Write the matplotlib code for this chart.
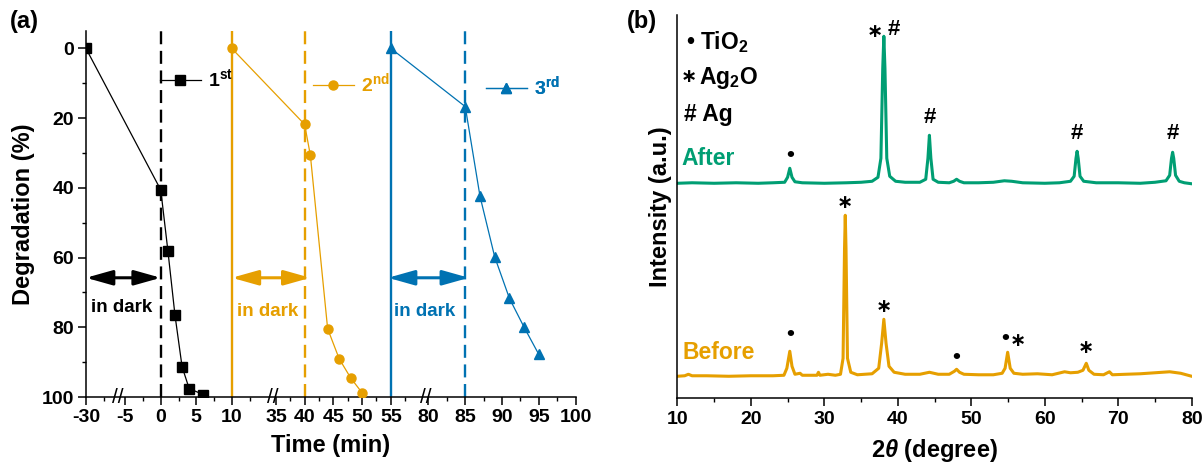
import numpy as np
import matplotlib
matplotlib.use('Agg')
import matplotlib.pyplot as plt
import matplotlib.transforms as mtransforms

plt.rcParams['font.family'] = ['Liberation Sans', 'DejaVu Sans']
plt.rcParams['font.weight'] = 'bold'
plt.rcParams['axes.labelweight'] = 'bold'
plt.rcParams['axes.unicode_minus'] = False
plt.rcParams['mathtext.fontset'] = 'custom'
plt.rcParams['mathtext.rm'] = 'Liberation Sans:bold'
plt.rcParams['mathtext.bf'] = 'Liberation Sans:bold'
plt.rcParams['mathtext.it'] = 'Liberation Sans:italic:bold'

BLACK = '#000000'
ORANGE = '#E69F00'
BLUE = '#0072B2'
GREEN = '#009E73'

# ---- (a) photocatalytic degradation, three cycles ----
t_run1 = [-30, 0, 1, 2, 3, 4, 6]
d_run1 = [0, 40.6, 58.0, 76.5, 91.3, 97.6, 99.3]
t_run2 = [10, 40, 41, 44, 46, 48, 50]
d_run2 = [0, 21.8, 30.7, 80.4, 89.0, 94.5, 98.8]
t_run3 = [55, 85, 87, 89, 91, 93, 95]
d_run3 = [0, 16.7, 42.4, 59.8, 71.7, 80.0, 87.8]
run_labels = [r'1$^{\mathbf{st}}$', r'2$^{\mathbf{nd}}$', r'3$^{\mathbf{rd}}$']

dark_start = [-30, 10, 55]
light_on = [0, 40, 85]
dark_arrows = [(-30, 0), (10, 41), (54.5, 85.5)]

x_major = [-30, -5, 0, 5, 10, 35, 40, 45, 50, 55, 80, 85, 90, 95, 100]
x_minor = [-27.5, -2.5, 2.5, 7.5, 12.5, 37.5, 42.5, 47.5, 52.5, 57.5,
           82.5, 87.5, 92.5, 97.5]

# broken time axis: real minutes -> position along the drawn axis
seg_real = [-30, -25.5, -6.0, 15.7, 34.4, 61.0, 79.6, 100]
seg_pos = [0, 32, 32.2, 186.3, 186.5, 339.4, 339.6, 489.7]
breaks = [-15.75, 25.05, 70.3]

# ---- (b) XRD patterns ----
tt_after = [10, 12, 15, 18, 21, 23, 24.6, 25.0, 25.3, 25.6, 26.0, 27, 30, 33, 35,
            36.5, 37.3, 37.7, 37.95, 38.1, 38.25, 38.5, 38.9, 39.7, 41, 43, 43.8,
            44.1, 44.3, 44.5, 44.8, 45.5, 47, 47.6, 48.0, 48.4, 49, 51, 53, 54.5,
            55.5, 57, 60, 62, 63.5, 64.0, 64.25, 64.4, 64.55, 64.8, 65.3, 67, 70,
            73, 75, 76.5, 77.0, 77.25, 77.4, 77.55, 77.8, 78.3, 79, 80]
i_after = [215, 215.5, 215, 215.5, 215, 215.5, 216, 221, 230, 221, 216.5, 215.5,
           215, 215.5, 216, 217, 221, 240, 330, 362, 330, 240, 222, 217, 216, 216,
           219, 240, 263, 240, 219, 216, 215.5, 217, 219, 217, 215.5, 215.5, 216,
           217.5, 217, 215.5, 215, 215.5, 217, 222, 240, 247, 240, 222, 217, 215.5,
           215.5, 215, 216, 217.5, 223, 240, 246, 240, 223, 217, 215.5, 214.5]

tt_before = [10, 11, 11.5, 12, 14, 17, 20, 23, 24.5, 24.9, 25.3, 25.6, 26.0, 26.7,
             27, 29, 29.2, 29.4, 30.5, 31.5, 32.2, 32.55, 32.75, 32.85, 32.95,
             33.15, 33.6, 34.5, 36.5, 37.4, 37.8, 38.1, 38.4, 38.8, 39.5, 41, 43,
             44.3, 45.5, 47, 47.7, 48.0, 48.4, 49, 51, 53, 54.2, 54.6, 54.95, 55.3,
             55.8, 57, 59, 61, 62.7, 63.5, 64.5, 65.2, 65.65, 66.0, 66.7, 68, 68.8,
             69.2, 71, 73, 75, 77, 78.5, 80]
i_before = [22, 22.5, 24, 22.5, 22.5, 22, 22.5, 22.5, 23, 30, 47, 32, 24, 25, 23,
            23, 26, 23, 24, 23, 24, 40, 150, 183, 150, 40, 26, 23.5, 24.5, 30, 55,
            79, 55, 32, 26, 24, 24, 26, 24, 24, 27, 29, 26, 24, 23.5, 23.5, 25, 30,
            46, 30, 25, 24, 24.5, 23.5, 26.5, 25.5, 26, 28, 35, 28, 24, 23.5, 26.5,
            23.5, 24, 24.5, 25.5, 26.5, 25, 22]

# peak markers: (2theta, intensity, symbol)
dot_marks = [(25.3, 243), (25.3, 64), (48.0, 41), (54.6, 60)]
star_marks = [(36.9, 366), (32.85, 195), (38.1, 91), (56.3, 57), (65.6, 50)]
hash_marks = [(39.5, 369), (44.3, 281), (64.4, 265), (77.4, 265)]

fig = plt.figure(figsize=(12.04, 4.68), dpi=100)

# ================= panel (a) =================
ax1 = fig.add_axes([0.0714, 0.1517, 0.4067, 0.7821])


def fwd(x):
    return np.interp(x, seg_real, seg_pos)


def inv(p):
    return np.interp(p, seg_pos, seg_real)


ax1.set_xscale('function', functions=(fwd, inv))
ax1.set_xlim(-30, 100)
ax1.set_ylim(100, -5)

colors = [BLACK, ORANGE, BLUE]
for x, c in zip(light_on, colors):
    ax1.axvline(x, color=c, lw=1.7, ls=(0, (5.5, 2.8)), zorder=1)
for x, c in zip(dark_start[1:], colors[1:]):
    ax1.axvline(x, color=c, lw=1.7, zorder=1)

runs = [(t_run1, d_run1, 's'), (t_run2, d_run2, 'o'), (t_run3, d_run3, '^')]
lines = []
for (t, d, m), c in zip(runs, colors):
    ln, = ax1.plot(t, d, color=c, marker=m, ms=6.5, lw=0.9, zorder=3)
    lines.append(ln)

leg_pos = [(0.151, 0.8675), (0.4636, 0.8566), (0.8168, 0.8484)]
for ln, lab, pos in zip(lines, run_labels, leg_pos):
    leg = ax1.legend(handles=[ln], labels=[lab], loc='center left', bbox_to_anchor=pos,
                     frameon=False, borderpad=0, borderaxespad=0, handlelength=2.1,
                     handletextpad=0.35, fontsize=14, labelcolor='linecolor', numpoints=1)
    ax1.add_artist(leg)

for (x0, x1), c in zip(dark_arrows, colors):
    ax1.annotate('', xy=(x1, 65.8), xytext=(x0, 65.8),
                 arrowprops=dict(arrowstyle='<|-|>,head_length=1.6,head_width=0.45',
                                 mutation_scale=10, color=c, lw=2.2,
                                 shrinkA=0, shrinkB=0))
dark_text_x = [-29.3, 10.8, 55.6]
dark_text_y = [74.2, 75.6, 75.6]
for x, y, c in zip(dark_text_x, dark_text_y, colors):
    ax1.text(x, y, 'in dark', color=c, fontsize=13.5, ha='left', va='center')

ax1.set_xticks(x_major)
ax1.set_xticklabels([str(v) for v in x_major])
ax1.set_xticks(x_minor, minor=True)
ax1.set_yticks([0, 20, 40, 60, 80, 100])
ax1.set_yticks([10, 30, 50, 70, 90], minor=True)
ax1.tick_params(which='major', length=5.5, width=1.1, labelsize=14, pad=3)
ax1.tick_params(which='minor', length=3, width=1.0)
for s in ['top', 'right']:
    ax1.spines[s].set_visible(False)
for s in ['left', 'bottom']:
    ax1.spines[s].set_linewidth(1.1)

trans = mtransforms.blended_transform_factory(ax1.transData, ax1.transAxes)
for b in breaks:
    ax1.text(b, 0, '//', transform=trans, ha='center', va='center',
             fontsize=15, fontweight='normal', clip_on=False)

ax1.set_xlabel('Time (min)', fontsize=17, labelpad=6)
ax1.set_ylabel('Degradation (%)', fontsize=17, labelpad=5)

# ================= panel (b) =================
ax2 = fig.add_axes([0.5626, 0.149, 0.4272, 0.819])
ax2.plot(tt_after, i_after, color=GREEN, lw=2.2)
ax2.plot(tt_before, i_before, color=ORANGE, lw=2.2)
ax2.set_xlim(10, 80)
ax2.set_ylim(0, 383.3)

for x, y in dot_marks:
    ax2.text(x, y, '•', ha='center', va='center', fontsize=16)
for x, y in star_marks:
    ax2.text(x, y, '∗', ha='center', va='center', fontsize=14)
for x, y in hash_marks:
    ax2.text(x, y, '#', ha='center', va='center', fontsize=16)

# phase key
ax2.text(11.7, 356, '•', ha='center', va='center', fontsize=16.5)
ax2.text(13.1, 356, 'TiO$_\\mathbf{2}$', ha='left', va='center', fontsize=16.5)
ax2.text(11.6, 321, '∗', ha='center', va='center', fontsize=14)
ax2.text(13.0, 320, 'Ag$_\\mathbf{2}$O', ha='left', va='center', fontsize=16.5)
ax2.text(10.9, 284, '# Ag', ha='left', va='center', fontsize=16.5)

ax2.text(10.6, 240, 'After', color=GREEN, fontsize=16.5, ha='left', va='center')
ax2.text(10.7, 46, 'Before', color=ORANGE, fontsize=16.5, ha='left', va='center')

ax2.set_xticks(np.arange(10, 81, 10))
ax2.set_xticks(np.arange(15, 80, 10), minor=True)
ax2.tick_params(axis='x', which='major', length=5.5, width=1.1, labelsize=14, pad=4)
ax2.tick_params(axis='x', which='minor', length=3, width=1.0)
ax2.tick_params(axis='y', left=False, labelleft=False)
for s in ['top', 'right']:
    ax2.spines[s].set_visible(False)
for s in ['left', 'bottom']:
    ax2.spines[s].set_linewidth(1.1)
ax2.set_xlabel(r'2$\mathit{\theta}$ (degree)', fontsize=17, labelpad=6)
ax2.set_ylabel('Intensity (a.u.)', fontsize=17, labelpad=4)

fig.text(0.0083, 0.953, '(a)', fontsize=17, ha='left', va='center')
fig.text(0.5208, 0.953, '(b)', fontsize=17, ha='left', va='center')

fig.savefig('out.png', dpi=100)
